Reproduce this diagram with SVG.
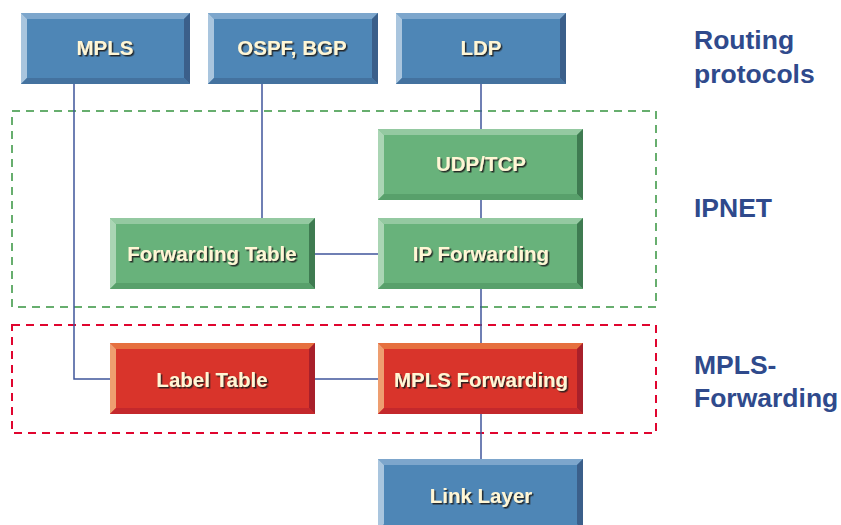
<svg xmlns="http://www.w3.org/2000/svg" width="841" height="525" viewBox="0 0 841 525">
<defs>
<filter id="sh" x="-10%" y="-30%" width="130%" height="160%">
<feDropShadow dx="1.5" dy="1.5" stdDeviation="0.3" flood-color="#1a1a1a" flood-opacity="0.9"/>
</filter>
</defs>
<style>
.lbl{font-family:"Liberation Sans",Arial,sans-serif;font-weight:bold;font-size:20.5px;fill:#FFF6D5;text-anchor:middle;filter:url(#sh)}
.side{font-family:"Liberation Sans",Arial,sans-serif;font-weight:bold;font-size:26.5px;fill:#2F4A8C}
.b .m{fill:#4E86B6}.b .t{fill:#7DA6CC}.b .l{fill:#A9C5DE}.b .r{fill:#3B5F8A}.b .d{fill:#44729F}
.g .m{fill:#68B27B}.g .t{fill:#94C9A1}.g .l{fill:#AAD5B4}.g .r{fill:#3F7B51}.g .d{fill:#58A06B}
.e .m{fill:#D9342B}.e .t{fill:#E6703F}.e .l{fill:#EE9E70}.e .r{fill:#A8202B}.e .d{fill:#C4282C}
.ln{stroke:#3F559B;stroke-width:1.5;fill:none}
</style>
<rect x="12" y="111" width="644" height="196" fill="none" stroke="#67AE6E" stroke-width="2" stroke-dasharray="8,6"/>
<rect x="12" y="325" width="644" height="108" fill="none" stroke="#E0052F" stroke-width="2" stroke-dasharray="8,6"/>
<g id="connectors">
<polyline class="ln" points="74,84 74,379 110,379"/>
<line class="ln" x1="262" y1="84" x2="262" y2="218"/>
<line class="ln" x1="481" y1="84" x2="481" y2="129"/>
<line class="ln" x1="481" y1="200" x2="481" y2="218"/>
<line class="ln" x1="481" y1="289" x2="481" y2="343"/>
<line class="ln" x1="481" y1="414" x2="481" y2="459"/>
<line class="ln" x1="315" y1="254" x2="378" y2="254"/>
<line class="ln" x1="315" y1="379" x2="378" y2="379"/>
</g>
<g id="n-mpls" class="b">
<rect class="m" x="21" y="13" width="169" height="71"/>
<polygon class="t" points="21,13 190,13 184,19 27,19"/>
<polygon class="l" points="21,13 27,19 27,78 21,84"/>
<polygon class="r" points="190,13 190,84 184,78 184,19"/>
<polygon class="d" points="21,84 27,78 184,78 190,84"/>
<text class="lbl" x="105" y="55">MPLS</text>
</g>
<g id="n-ospf" class="b">
<rect class="m" x="208" y="13" width="170" height="71"/>
<polygon class="t" points="208,13 378,13 372,19 214,19"/>
<polygon class="l" points="208,13 214,19 214,78 208,84"/>
<polygon class="r" points="378,13 378,84 372,78 372,19"/>
<polygon class="d" points="208,84 214,78 372,78 378,84"/>
<text class="lbl" x="292" y="55">OSPF, BGP</text>
</g>
<g id="n-ldp" class="b">
<rect class="m" x="396" y="13" width="170" height="71"/>
<polygon class="t" points="396,13 566,13 560,19 402,19"/>
<polygon class="l" points="396,13 402,19 402,78 396,84"/>
<polygon class="r" points="566,13 566,84 560,78 560,19"/>
<polygon class="d" points="396,84 402,78 560,78 566,84"/>
<text class="lbl" x="481" y="55">LDP</text>
</g>
<g id="n-udp" class="g">
<rect class="m" x="378" y="129" width="205" height="71"/>
<polygon class="t" points="378,129 583,129 577,135 384,135"/>
<polygon class="l" points="378,129 384,135 384,194 378,200"/>
<polygon class="r" points="583,129 583,200 577,194 577,135"/>
<polygon class="d" points="378,200 384,194 577,194 583,200"/>
<text class="lbl" x="481" y="171">UDP/TCP</text>
</g>
<g id="n-ftable" class="g">
<rect class="m" x="110" y="218" width="205" height="71"/>
<polygon class="t" points="110,218 315,218 309,224 116,224"/>
<polygon class="l" points="110,218 116,224 116,283 110,289"/>
<polygon class="r" points="315,218 315,289 309,283 309,224"/>
<polygon class="d" points="110,289 116,283 309,283 315,289"/>
<text class="lbl" x="212" y="261">Forwarding Table</text>
</g>
<g id="n-ipfwd" class="g">
<rect class="m" x="378" y="218" width="205" height="71"/>
<polygon class="t" points="378,218 583,218 577,224 384,224"/>
<polygon class="l" points="378,218 384,224 384,283 378,289"/>
<polygon class="r" points="583,218 583,289 577,283 577,224"/>
<polygon class="d" points="378,289 384,283 577,283 583,289"/>
<text class="lbl" x="481" y="261">IP Forwarding</text>
</g>
<g id="n-ltable" class="e">
<rect class="m" x="110" y="343" width="205" height="71"/>
<polygon class="t" points="110,343 315,343 309,349 116,349"/>
<polygon class="l" points="110,343 116,349 116,408 110,414"/>
<polygon class="r" points="315,343 315,414 309,408 309,349"/>
<polygon class="d" points="110,414 116,408 309,408 315,414"/>
<text class="lbl" x="212" y="387">Label Table</text>
</g>
<g id="n-mplsfwd" class="e">
<rect class="m" x="378" y="343" width="205" height="71"/>
<polygon class="t" points="378,343 583,343 577,349 384,349"/>
<polygon class="l" points="378,343 384,349 384,408 378,414"/>
<polygon class="r" points="583,343 583,414 577,408 577,349"/>
<polygon class="d" points="378,414 384,408 577,408 583,414"/>
<text class="lbl" x="481" y="387">MPLS Forwarding</text>
</g>
<g id="n-link" class="b">
<rect class="m" x="378" y="459" width="205" height="71"/>
<polygon class="t" points="378,459 583,459 577,465 384,465"/>
<polygon class="l" points="378,459 384,465 384,524 378,530"/>
<polygon class="r" points="583,459 583,530 577,524 577,465"/>
<text class="lbl" x="481" y="503">Link Layer</text>
</g>
<g id="labels">
<text class="side" x="694" y="49">Routing</text>
<text class="side" x="694" y="83">protocols</text>
<text class="side" x="694" y="217">IPNET</text>
<text class="side" x="694" y="374">MPLS-</text>
<text class="side" x="694" y="407">Forwarding</text>
</g>
</svg>
